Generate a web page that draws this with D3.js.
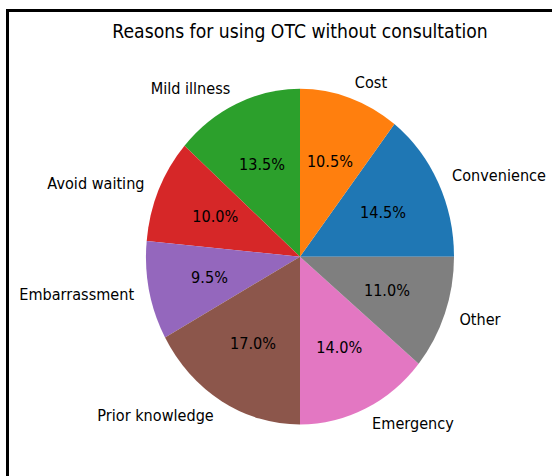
<!DOCTYPE html>
<html>
<head>
<meta charset="utf-8">
<script src="https://cdn.jsdelivr.net/npm/d3@7"></script>
<style>
  body { margin: 0; background: #fff; }
  text { font-family: "DejaVu Sans", sans-serif; fill: #000; }
</style>
</head>
<body>
<div id="chart"></div>
<script>
// Data
var labels = ["Convenience", "Cost", "Mild illness", "Avoid waiting", "Embarrassment", "Prior knowledge", "Emergency", "Other"];
var values = [14.5, 10.5, 13.5, 10.0, 9.5, 17.0, 14.0, 11.0];
var colors = ["#1f77b4", "#ff7f0e", "#2ca02c", "#d62728", "#9467bd", "#8c564b", "#e377c2", "#7f7f7f"];
var title = "Reasons for using OTC without consultation";

var width = 552, height = 476;
var cx = 300, cy = 256.7, radius = 154, stretchY = 1.09;

var data = labels.map(function(d, i) { return {label: d, value: values[i], color: colors[i]}; });

var svg = d3.select("#chart")
  .append("svg")
    .attr("width", width)
    .attr("height", height);

// frame lines (left and top only)
svg.append("line")
    .attr("x1", 7.5).attr("x2", 7.5)
    .attr("y1", 9).attr("y2", height)
    .attr("stroke", "#000").attr("stroke-width", 3);
svg.append("line")
    .attr("x1", 6).attr("x2", width)
    .attr("y1", 10.5).attr("y2", 10.5)
    .attr("stroke", "#000").attr("stroke-width", 3);

var g = svg.append("g")
    .attr("transform", "translate(" + cx + "," + cy + ") scale(1," + stretchY + ")");

// matplotlib style: start at 3 o'clock, counterclockwise
var pie = d3.pie()
    .sort(null)
    .value(function(d) { return d.value; })
    .startAngle(Math.PI / 2)
    .endAngle(Math.PI / 2 - 2 * Math.PI);

var arc = d3.arc().innerRadius(0).outerRadius(radius);

var arcs = pie(data);

g.selectAll("path.slice")
  .data(arcs)
  .enter()
  .append("path")
    .attr("class", "slice")
    .attr("d", arc)
    .attr("fill", function(d) { return d.data.color; });

function mid(d) { return (d.startAngle + d.endAngle) / 2; }

// outer labels
g.selectAll("text.label")
  .data(arcs)
  .enter()
  .append("text")
    .attr("class", "label")
    .attr("x", function(d) { return 1.1 * radius * Math.sin(mid(d)); })
    .attr("y", function(d) { return -1.1 * radius * Math.cos(mid(d)); })
    .attr("dy", "0.35em")
    .attr("text-anchor", function(d) { return Math.sin(mid(d)) > 0 ? "start" : "end"; })
    .style("font-size", "14.5px")
    .text(function(d) { return d.data.label; });

// percentage labels
g.selectAll("text.pct")
  .data(arcs)
  .enter()
  .append("text")
    .attr("class", "pct")
    .attr("x", function(d) { return 0.6 * radius * Math.sin(mid(d)); })
    .attr("y", function(d) { return -0.6 * radius * Math.cos(mid(d)); })
    .attr("dy", "0.35em")
    .attr("text-anchor", "middle")
    .style("font-size", "14.5px")
    .text(function(d) { return d.data.value.toFixed(1) + "%"; });

// title
g.append("text")
    .attr("x", 0)
    .attr("y", (38 - cy) / stretchY)
    .attr("text-anchor", "middle")
    .style("font-size", "17.25px")
    .text(title);
</script>
</body>
</html>
